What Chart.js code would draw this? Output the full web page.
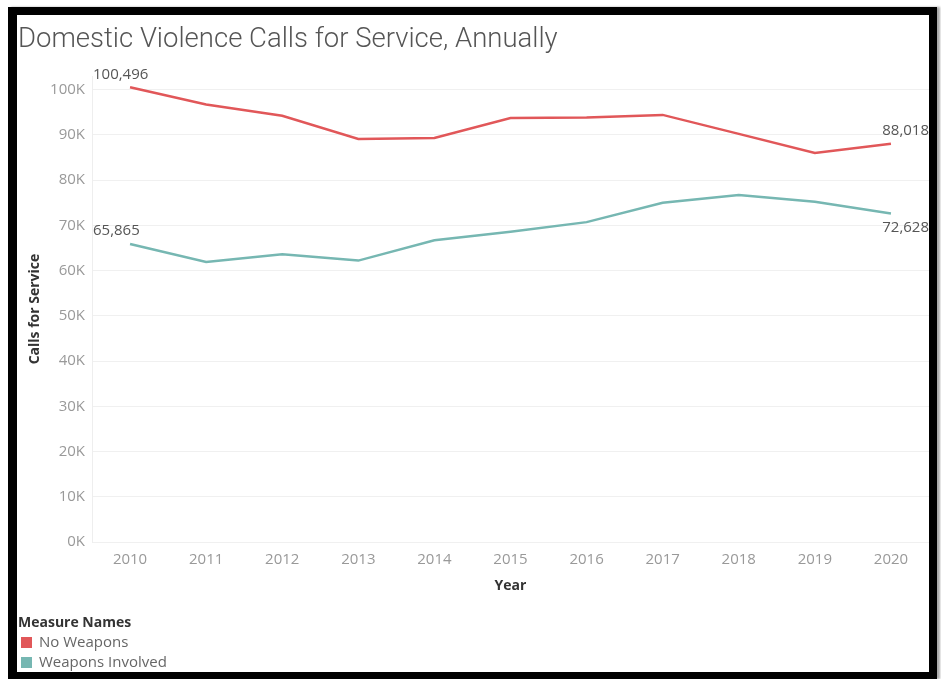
<!DOCTYPE html>
<html lang="en">
<head>
    <meta charset="UTF-8" />
    <title>Domestic Violence Calls for Service, Annually</title>
    <style>
        html, body { margin: 0; padding: 0; background: #fff; }
        #frame {
            position: absolute; left: 8px; top: 7px; width: 929px; height: 672px;
            box-sizing: border-box; border-style: solid; border-color: #000;
            border-width: 8px 8px 7px 9px; box-shadow: 3px 0 2px #aaa;
        }
        #myChart { position: absolute; left: 0; top: 0; }
    </style>
</head>
<body>
    <div id="frame"></div>
    <canvas id="myChart" width="941" height="679"></canvas>

    <script src="https://cdn.jsdelivr.net/npm/chart.js@4.4.1/dist/chart.umd.min.js"></script>
    <script>
        // Chart data
        const years = ["2010", "2011", "2012", "2013", "2014", "2015", "2016", "2017", "2018", "2019", "2020"];
        const noWeapons = [100496, 96700, 94200, 89100, 89300, 93700, 93800, 94400, 90200, 86000, 88018];
        const weaponsInvolved = [65865, 61900, 63600, 62200, 66700, 68600, 70700, 75000, 76700, 75200, 72628];
        const seriesNames = ["No Weapons", "Weapons Involved"];
        const seriesColors = ["#e15759", "#76b7b2"];
        const yTicks = [0, 10000, 20000, 30000, 40000, 50000, 60000, 70000, 80000, 90000, 100000];

        const tickFont = { family: "'Open Sans', sans-serif", size: 15 };

        // Labels at first and last point of each line
        const endLabels = {
            id: "endLabels",
            afterDatasetsDraw(chart) {
                const ctx = chart.ctx;
                const area = chart.chartArea;
                ctx.save();
                ctx.font = "15px 'Open Sans', sans-serif";
                ctx.fillStyle = "#555";
                ctx.textBaseline = "middle";
                chart.data.datasets.forEach((ds, di) => {
                    const meta = chart.getDatasetMeta(di);
                    const last = ds.data.length - 1;
                    [0, last].forEach((i) => {
                        const pt = meta.data[i];
                        const text = ds.data[i].toLocaleString("en-US");
                        const below = di === 1 && i === last;
                        const y = below ? pt.y + 14 : pt.y - 13;
                        if (i === 0) {
                            ctx.textAlign = "left";
                            ctx.fillText(text, area.left + 1, y);
                        } else {
                            ctx.textAlign = "right";
                            ctx.fillText(text, area.right, y);
                        }
                    });
                });
                ctx.restore();
            }
        };

        // Tableau-style legend at the bottom left
        const sideLegend = {
            id: "sideLegend",
            afterDraw(chart) {
                const ctx = chart.ctx;
                ctx.save();
                ctx.textBaseline = "middle";
                ctx.textAlign = "left";
                ctx.font = "bold 14px 'Open Sans', sans-serif";
                ctx.fillStyle = "#333";
                ctx.fillText("Measure Names", 18, 623);
                ctx.font = "15px 'Open Sans', sans-serif";
                seriesNames.forEach((name, i) => {
                    const y = 643 + i * 20;
                    ctx.fillStyle = seriesColors[i];
                    ctx.fillRect(21, y - 6, 11, 11);
                    ctx.fillStyle = "#666";
                    ctx.fillText(name, 39, y);
                });
                ctx.restore();
            }
        };

        new Chart(document.getElementById("myChart"), {
            type: "line",
            data: {
                labels: years,
                datasets: [
                    {
                        label: seriesNames[0],
                        data: noWeapons,
                        borderColor: seriesColors[0],
                        backgroundColor: seriesColors[0],
                        borderWidth: 2.5,
                        pointRadius: 0,
                        tension: 0,
                    },
                    {
                        label: seriesNames[1],
                        data: weaponsInvolved,
                        borderColor: seriesColors[1],
                        backgroundColor: seriesColors[1],
                        borderWidth: 2.5,
                        pointRadius: 0,
                        tension: 0,
                    },
                ],
            },
            options: {
                responsive: false,
                animation: false,
                devicePixelRatio: 1,
                layout: { padding: { left: 18, right: 12, top: 20, bottom: 84.6 } },
                plugins: {
                    legend: { display: false },
                    tooltip: { enabled: false },
                    title: {
                        display: true,
                        text: "Domestic Violence Calls for Service, Annually",
                        align: "start",
                        color: "#555",
                        font: { family: "Roboto, sans-serif", size: 27.5, weight: 300 },
                        padding: { top: 3.5, bottom: 19.5 },
                    },
                },
                scales: {
                    x: {
                        offset: true,
                        grid: { display: false, drawTicks: false },
                        border: { display: false },
                        ticks: { color: "#999", font: tickFont, padding: 9, maxRotation: 0 },
                        title: {
                            display: true,
                            text: "Year",
                            color: "#333",
                            font: { family: "'Open Sans', sans-serif", size: 14, weight: "bold" },
                            padding: { top: 0, bottom: 0 },
                        },
                        afterFit(scale) { scale.height = 52.4; },
                    },
                    y: {
                        min: 0,
                        max: 103000,
                        grid: { color: "#f0f0f0", drawTicks: false },
                        border: { display: true, color: "#eeeeee" },
                        ticks: {
                            color: "#999",
                            font: tickFont,
                            padding: 7,
                            callback: (v) => (v / 1000) + "K",
                        },
                        afterBuildTicks(scale) {
                            scale.ticks = yTicks.map((v) => ({ value: v }));
                        },
                        title: {
                            display: true,
                            text: "Calls for Service",
                            color: "#333",
                            font: { family: "'Open Sans', sans-serif", size: 14, weight: "bold" },
                            padding: { top: 8.6, bottom: 0 },
                        },
                        afterFit(scale) { scale.width = 74; },
                    },
                },
            },
            plugins: [endLabels, sideLegend],
        });
    </script>
</body>
</html>
